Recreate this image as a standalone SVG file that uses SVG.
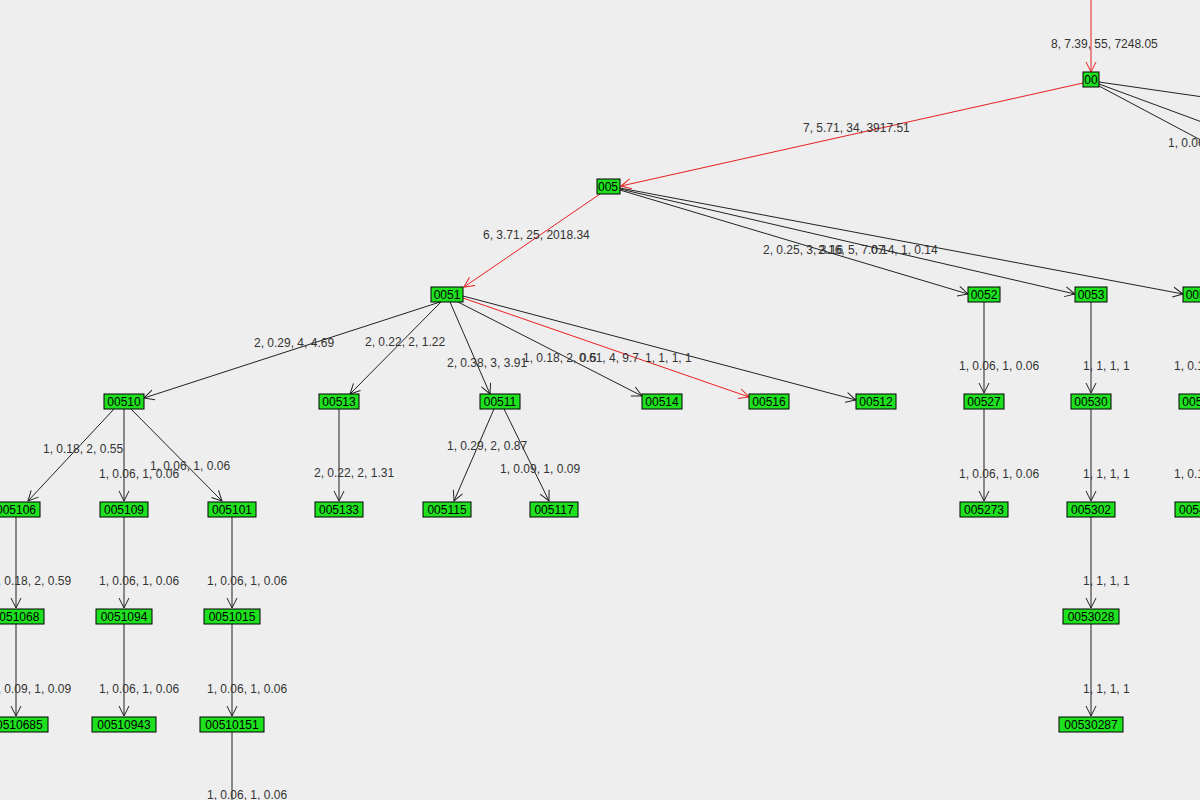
<svg xmlns="http://www.w3.org/2000/svg" width="1200" height="800" viewBox="0 0 1200 800">
<style>
.n rect{fill:#1ee01e;stroke:#000;stroke-width:1}
text{font-family:"Liberation Sans",Arial,sans-serif;font-size:12px;fill:#333}
.n text{fill:#000;text-anchor:middle}
.e{stroke:#222;stroke-width:1;fill:none;marker-end:url(#a)}
.p{stroke:#222;stroke-width:1;fill:none}
.r{stroke:#e82020;stroke-width:1;fill:none;marker-end:url(#ar)}
</style>
<defs>
<marker id="a" markerWidth="12" markerHeight="12" refX="11" refY="6" orient="auto" markerUnits="userSpaceOnUse"><path d="M1,1 L11,6 L1,11" fill="none" stroke="#222"/></marker>
<marker id="ar" markerWidth="12" markerHeight="12" refX="11" refY="6" orient="auto" markerUnits="userSpaceOnUse"><path d="M1,1 L11,6 L1,11" fill="none" stroke="#e82020"/></marker>
</defs>
<rect width="1200" height="800" fill="#eeeeee"/>
<g id="connectors">
<path class="r" d="M1091,0 L1091,72"/>
<path class="r" d="M1083,83 L621,186"/>
<path class="p" d="M1099,82 L1210,98"/>
<path class="p" d="M1099,84 L1210,125"/>
<path class="p" d="M1099,86 L1210,145"/>
<path class="r" d="M600,194 L464,287"/>
<path class="e" d="M620,190 L968,294"/>
<path class="e" d="M620,189 L1075,294"/>
<path class="e" d="M620,188 L1183,294"/>
<path class="e" d="M440,302 L144,398"/>
<path class="e" d="M441,302 L350,394"/>
<path class="e" d="M450,302 L490,394"/>
<path class="e" d="M458,302 L642,396"/>
<path class="r" d="M463,298 L749,397"/>
<path class="e" d="M463,296 L856,400"/>
<path class="e" d="M114,409 L28,501"/>
<path class="e" d="M124,409 L124,501"/>
<path class="e" d="M131,409 L222,501"/>
<path class="e" d="M339,409 L339,501"/>
<path class="e" d="M494,409 L454,501"/>
<path class="e" d="M504,409 L549,501"/>
<path class="e" d="M984,302 L984,393"/>
<path class="e" d="M1091,302 L1091,393"/>
<path class="e" d="M984,409 L984,501"/>
<path class="e" d="M1091,409 L1091,501"/>
<path class="e" d="M16,517 L16,608"/>
<path class="e" d="M124,517 L124,608"/>
<path class="e" d="M232,517 L232,608"/>
<path class="e" d="M1091,517 L1091,608"/>
<path class="e" d="M16,624 L16,716"/>
<path class="e" d="M124,624 L124,716"/>
<path class="e" d="M232,624 L232,716"/>
<path class="e" d="M1091,624 L1091,716"/>
<path class="p" d="M232,732 L232,800"/>
</g>
<g id="labels">
<text x="1051" y="48">8, 7.39, 55, 7248.05</text>
<text x="1168" y="147">1, 0.06</text>
<text x="803" y="132">7, 5.71, 34, 3917.51</text>
<text x="483" y="239">6, 3.71, 25, 2018.34</text>
<text x="763" y="254">2, 0.25, 3, 3.16</text>
<text x="818" y="254">2.16, 5, 7.07</text>
<text x="871" y="254">0.14, 1, 0.14</text>
<text x="254" y="347">2, 0.29, 4, 4.69</text>
<text x="365" y="346">2, 0.22, 2, 1.22</text>
<text x="447" y="367">2, 0.38, 3, 3.91</text>
<text x="523" y="362">1, 0.18, 2, 0.5</text>
<text x="579" y="362">0.61, 4, 9.7</text>
<text x="645" y="362">1, 1, 1, 1</text>
<text x="959" y="370">1, 0.06, 1, 0.06</text>
<text x="1083" y="370">1, 1, 1, 1</text>
<text x="1174" y="370">1, 0.1</text>
<text x="43" y="453">1, 0.18, 2, 0.55</text>
<text x="99" y="478">1, 0.06, 1, 0.06</text>
<text x="150" y="470">1, 0.06, 1, 0.06</text>
<text x="314" y="477">2, 0.22, 2, 1.31</text>
<text x="447" y="450">1, 0.29, 2, 0.87</text>
<text x="500" y="473">1, 0.09, 1, 0.09</text>
<text x="959" y="478">1, 0.06, 1, 0.06</text>
<text x="1083" y="478">1, 1, 1, 1</text>
<text x="1174" y="478">1, 0.1</text>
<text x="-9" y="585">1, 0.18, 2, 0.59</text>
<text x="99" y="585">1, 0.06, 1, 0.06</text>
<text x="207" y="585">1, 0.06, 1, 0.06</text>
<text x="1083" y="585">1, 1, 1, 1</text>
<text x="-9" y="693">1, 0.09, 1, 0.09</text>
<text x="99" y="693">1, 0.06, 1, 0.06</text>
<text x="207" y="693">1, 0.06, 1, 0.06</text>
<text x="1083" y="693">1, 1, 1, 1</text>
<text x="207" y="799">1, 0.06, 1, 0.06</text>
</g>
<g id="n00" class="n"><rect x="1083" y="72" width="16" height="15"/><text x="1091" y="84">00</text></g>
<g id="n005" class="n"><rect x="597" y="179" width="23" height="15"/><text x="608" y="191">005</text></g>
<g id="n0051" class="n"><rect x="431" y="287" width="32" height="15"/><text x="447" y="299">0051</text></g>
<g id="n0052" class="n"><rect x="968" y="287" width="32" height="15"/><text x="984" y="299">0052</text></g>
<g id="n0053" class="n"><rect x="1075" y="287" width="32" height="15"/><text x="1091" y="299">0053</text></g>
<g id="n005x" class="n"><rect x="1183" y="287" width="32" height="15"/><text x="1199" y="299">0054</text></g>
<g id="n00510" class="n"><rect x="104" y="394" width="40" height="15"/><text x="124" y="406">00510</text></g>
<g id="n00513" class="n"><rect x="319" y="394" width="40" height="15"/><text x="339" y="406">00513</text></g>
<g id="n00511" class="n"><rect x="480" y="394" width="40" height="15"/><text x="500" y="406">00511</text></g>
<g id="n00514" class="n"><rect x="642" y="394" width="40" height="15"/><text x="662" y="406">00514</text></g>
<g id="n00516" class="n"><rect x="749" y="394" width="40" height="15"/><text x="769" y="406">00516</text></g>
<g id="n00512" class="n"><rect x="856" y="394" width="40" height="15"/><text x="876" y="406">00512</text></g>
<g id="n00527" class="n"><rect x="964" y="394" width="40" height="15"/><text x="984" y="406">00527</text></g>
<g id="n00530" class="n"><rect x="1071" y="394" width="40" height="15"/><text x="1091" y="406">00530</text></g>
<g id="n005xx" class="n"><rect x="1179" y="394" width="40" height="15"/><text x="1199" y="406">00540</text></g>
<g id="n005106" class="n"><rect x="-8" y="502" width="48" height="15"/><text x="16" y="514">005106</text></g>
<g id="n005109" class="n"><rect x="100" y="502" width="48" height="15"/><text x="124" y="514">005109</text></g>
<g id="n005101" class="n"><rect x="208" y="502" width="48" height="15"/><text x="232" y="514">005101</text></g>
<g id="n005133" class="n"><rect x="315" y="502" width="48" height="15"/><text x="339" y="514">005133</text></g>
<g id="n005115" class="n"><rect x="423" y="502" width="48" height="15"/><text x="447" y="514">005115</text></g>
<g id="n005117" class="n"><rect x="530" y="502" width="48" height="15"/><text x="554" y="514">005117</text></g>
<g id="n005273" class="n"><rect x="960" y="502" width="48" height="15"/><text x="984" y="514">005273</text></g>
<g id="n005302" class="n"><rect x="1067" y="502" width="48" height="15"/><text x="1091" y="514">005302</text></g>
<g id="n005xxx" class="n"><rect x="1175" y="502" width="48" height="15"/><text x="1199" y="514">005402</text></g>
<g id="n0051068" class="n"><rect x="-12" y="609" width="56" height="15"/><text x="16" y="621">0051068</text></g>
<g id="n0051094" class="n"><rect x="96" y="609" width="56" height="15"/><text x="124" y="621">0051094</text></g>
<g id="n0051015" class="n"><rect x="204" y="609" width="56" height="15"/><text x="232" y="621">0051015</text></g>
<g id="n0053028" class="n"><rect x="1063" y="609" width="56" height="15"/><text x="1091" y="621">0053028</text></g>
<g id="n00510685" class="n"><rect x="-16" y="717" width="64" height="15"/><text x="16" y="729">00510685</text></g>
<g id="n00510943" class="n"><rect x="92" y="717" width="64" height="15"/><text x="124" y="729">00510943</text></g>
<g id="n00510151" class="n"><rect x="200" y="717" width="64" height="15"/><text x="232" y="729">00510151</text></g>
<g id="n00530287" class="n"><rect x="1059" y="717" width="64" height="15"/><text x="1091" y="729">00530287</text></g>
</svg>
